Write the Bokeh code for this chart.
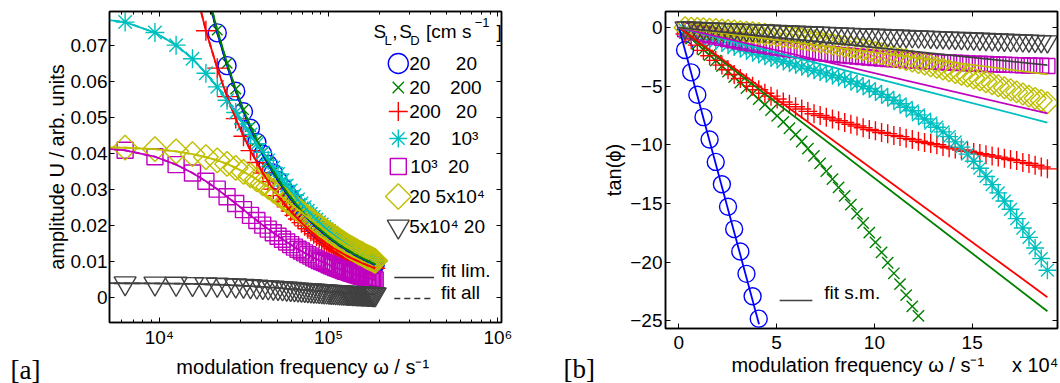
import math
from bokeh.plotting import figure
from bokeh.models import FixedTicker, LogAxis, LinearAxis, Range1d, LinearScale
from bokeh.layouts import row, column
from bokeh.embed import file_html
from bokeh.resources import INLINE
from bokeh.core.properties import value

# ---------------- data ----------------
omega = [3142, 6283, 9425, 12566, 15708, 18850, 21991, 25133, 28274, 31416,
         34558, 37699, 40841, 43982, 47124, 50265, 53407, 56549, 59690, 62832,
         65973, 69115, 72257, 75398, 78540, 81681, 84823, 87965, 91106, 94248,
         97389, 100531, 103673, 106814, 109956, 113097, 116239, 119381, 122522, 125664,
         128805, 131947, 135088, 138230, 141372, 144513, 147655, 150796, 153938, 157080,
         160221, 163363, 166504, 169646, 172788, 175929, 179071, 182212, 185354, 188496]

# panel [a]: amplitude U
amp_blue = [.5106, .2556, .1706, .1281, .1026, .0856, .0735, .0644, .0573, .0516,
            .0470, .0431, .0398, .0370, .0346, .0325, .0306, .0289, .0274, .0261,
            .0249, .0238, .0228, .0219, .0210, .0202, .0195, .0188, .0182, .0176,
            .0171, .0165, .0161, .0156, .0152, .0148, .0144, .0140, .0137, .0134,
            .0130, .0127, .0125, .0122, .0119, .0117, .0115, .0112, .0110, .0108,
            .0106, .0104, .0102, .0100, .0099, .0097, .0095, .0094, .0092, .0091]
amp_green = [.5157, .2582, .1724, .1295, .1037, .0865, .0743, .0651, .0579, .0522,
             .0475, .0436, .0403, .0375, .0350, .0329, .0310, .0293, .0278, .0265,
             .0252, .0241, .0231, .0222, .0213, .0205, .0198, .0191, .0185, .0179,
             .0173, .0168, .0163, .0158, .0154, .0150, .0146, .0143, .0139, .0136,
             .0133, .0130, .0127, .0124, .0121, .0119, .0117, .0114, .0112, .0110,
             .0108, .0106, .0104, .0102, .0101, .0099, .0097, .0096, .0094, .0093]
amp_red = [.4408, .2208, .1475, .1108, .0888, .0741, .0637, .0558, .0497, .0448,
           .0408, .0375, .0346, .0322, .0301, .0283, .0267, .0252, .0240, .0228,
           .0218, .0208, .0199, .0191, .0184, .0177, .0171, .0165, .0160, .0155,
           .0150, .0146, .0141, .0137, .0134, .0130, .0127, .0124, .0121, .0118,
           .0115, .0113, .0110, .0108, .0106, .0104, .0102, .0100, .0098, .0096,
           .0094, .0093, .0091, .0089, .0088, .0087, .0085, .0084, .0083, .0081]
amp_cyan = [.0783, .0765, .0736, .0701, .0663, .0623, .0585, .0548, .0514, .0482,
            .0453, .0427, .0403, .0381, .0361, .0343, .0326, .0311, .0297, .0284,
            .0272, .0261, .0251, .0241, .0233, .0224, .0217, .0209, .0203, .0196,
            .0190, .0185, .0180, .0174, .0170, .0165, .0161, .0157, .0153, .0149,
            .0146, .0142, .0139, .0136, .0133, .0130, .0128, .0125, .0123, .0120,
            .0118, .0116, .0114, .0112, .0110, .0108, .0106, .0104, .0102, .0101]
amp_magenta = [.0421, .0409, .0391, .0369, .0346, .0323, .0301, .0280, .0261, .0244,
               .0228, .0214, .0201, .0190, .0180, .0170, .0162, .0154, .0147, .0140,
               .0134, .0129, .0124, .0119, .0115, .0110, .0107, .0103, .0100, .0097,
               .0094, .0091, .0088, .0086, .0083, .0081, .0079, .0077, .0075, .0073,
               .0072, .0070, .0068, .0067, .0065, .0064, .0063, .0061, .0060, .0059,
               .0058, .0057, .0056, .0055, .0054, .0053, .0052, .0051, .0050, .0049]
amp_yellow = [.0419, .0416, .0412, .0406, .0398, .0390, .0381, .0371, .0360, .0349,
              .0339, .0328, .0317, .0307, .0297, .0287, .0278, .0269, .0260, .0252,
              .0244, .0237, .0229, .0223, .0216, .0210, .0204, .0198, .0193, .0188,
              .0183, .0178, .0174, .0170, .0165, .0162, .0158, .0154, .0151, .0147,
              .0144, .0141, .0138, .0136, .0133, .0130, .0128, .0125, .0123, .0121,
              .0119, .0116, .0114, .0112, .0111, .0109, .0107, .0105, .0103, .0102]
amp_grey = [.00399, .00396, .00391, .00385, .00377, .00368, .00358, .00348, .00337, .00327,
            .00316, .00305, .00294, .00284, .00274, .00265, .00256, .00247, .00239, .00231,
            .00223, .00216, .00210, .00203, .00197, .00191, .00186, .00180, .00175, .00171,
            .00166, .00162, .00158, .00154, .00150, .00146, .00143, .00140, .00136, .00133,
            .00130, .00128, .00125, .00122, .00120, .00118, .00115, .00113, .00111, .00109,
            .00107, .00105, .00103, .00101, .00100, .00098, .00096, .00095, .00093, .00092]

# panel [b]: tan(phi)
tan_blue = [-1.91, -3.82, -5.73, -7.64, -9.55, -11.46, -13.37, -15.28, -17.19, -19.1,
            -21.01, -22.92, -24.83]
tan_green = [-0.47, -0.94, -1.41, -1.88, -2.35, -2.82, -3.29, -3.76, -4.23, -4.70,
             -5.17, -5.64, -6.11, -6.58, -7.05, -7.54, -8.05, -8.59, -9.14, -9.72,
             -10.32, -10.94, -11.58, -12.24, -12.93, -13.63, -14.36, -15.11, -15.88, -16.67,
             -17.49, -18.32, -19.18, -20.06, -20.96, -21.88, -22.82, -23.78, -24.6]
tan_red = [-0.55, -1.05, -1.5, -1.95, -2.4, -2.8, -3.2, -3.6, -4.0, -4.35,
           -4.7, -5.0, -5.3, -5.6, -5.85, -6.1, -6.35, -6.55, -6.75, -6.95,
           -7.15, -7.35, -7.5, -7.65, -7.8, -7.95, -8.1, -8.25, -8.4, -8.55,
           -8.7, -8.8, -8.95, -9.05, -9.2, -9.3, -9.45, -9.55, -9.7, -9.8,
           -9.9, -10.0, -10.15, -10.25, -10.35, -10.45, -10.55, -10.65, -10.75, -10.85,
           -10.95, -11.05, -11.15, -11.25, -11.35, -11.5, -11.6, -11.75, -11.9, -12.05]
tan_cyan = [-0.2, -0.4, -0.6, -0.8, -1.0, -1.15, -1.3, -1.5, -1.65, -1.8,
            -2.0, -2.15, -2.3, -2.45, -2.6, -2.75, -2.9, -3.05, -3.2, -3.35,
            -3.5, -3.65, -3.8, -3.95, -4.1, -4.25, -4.4, -4.6, -4.8, -5.0,
            -5.2, -5.45, -5.7, -5.95, -6.2, -6.5, -6.8, -7.1, -7.45, -7.8,
            -8.15, -8.5, -8.9, -9.3, -9.75, -10.2, -10.8, -11.4, -12.0, -12.7,
            -13.4, -14.1, -14.8, -15.5, -16.3, -17.1, -17.9, -18.8, -19.7, -20.7]
tan_magenta = [-0.141, -0.277, -0.407, -0.532, -0.653, -0.768, -0.879, -0.986, -1.088, -1.187,
               -1.282, -1.372, -1.460, -1.544, -1.624, -1.702, -1.776, -1.848, -1.916, -1.982,
               -2.046, -2.107, -2.165, -2.222, -2.276, -2.327, -2.377, -2.425, -2.471, -2.516,
               -2.558, -2.599, -2.638, -2.676, -2.712, -2.747, -2.781, -2.813, -2.844, -2.873,
               -2.902, -2.929, -2.955, -2.981, -3.005, -3.028, -3.051, -3.072, -3.093, -3.113,
               -3.132, -3.150, -3.168, -3.185, -3.201, -3.217, -3.232, -3.246, -3.260, -3.273]
tan_yellow = [-0.022, -0.046, -0.073, -0.103, -0.136, -0.172, -0.211, -0.253, -0.297, -0.345,
              -0.395, -0.449, -0.505, -0.564, -0.626, -0.691, -0.759, -0.830, -0.903, -0.980,
              -1.059, -1.142, -1.227, -1.315, -1.406, -1.500, -1.597, -1.697, -1.799, -1.905,
              -2.013, -2.125, -2.239, -2.356, -2.476, -2.599, -2.725, -2.854, -2.985, -3.120,
              -3.257, -3.398, -3.541, -3.687, -3.836, -3.988, -4.143, -4.301, -4.461, -4.625,
              -4.791, -4.961, -5.133, -5.308, -5.486, -5.667, -5.851, -6.038, -6.227, -6.420]
tan_grey = [-0.02, -0.04, -0.06, -0.08, -0.10, -0.12, -0.14, -0.16, -0.18, -0.20,
            -0.22, -0.24, -0.26, -0.28, -0.30, -0.32, -0.34, -0.36, -0.38, -0.40,
            -0.42, -0.44, -0.46, -0.48, -0.50, -0.52, -0.54, -0.56, -0.58, -0.60,
            -0.62, -0.64, -0.66, -0.68, -0.70, -0.72, -0.74, -0.76, -0.78, -0.80,
            -0.82, -0.84, -0.86, -0.88, -0.90, -0.92, -0.94, -0.96, -0.98, -1.00,
            -1.02, -1.04, -1.06, -1.08, -1.10, -1.12, -1.14, -1.16, -1.18, -1.20]

# straight "fit s.m." lines of panel [b]: (omega, tan) start and end
fit_sm_omega = [[0, 41000], [0, 188496], [0, 188496], [0, 188496], [0, 188496], [0, 188496], [0, 188496]]
fit_sm_tan = [[0, -25.3], [0, -24.2], [0, -23.0], [0, -8.1], [0, -7.33], [0, -4.0], [0, -3.2]]

# legend texts (S_L, S_D columns)
legend_col1 = ["20", "20", "200", "20", "10³", "20 5x10⁴", "5x10⁴ 20"]
legend_col2 = ["20", "200", "20", "10³", "20", "", ""]

# ticks
amp_ticks = [0, 0.01, 0.02, 0.03, 0.04, 0.05, 0.06, 0.07]
amp_tick_labels = ["0", "0.01", "0.02", "0.03", "0.04", "0.05", "0.06", "0.07"]
logw_ticks = [10000, 100000, 1000000]
logw_tick_labels = ["10⁴", "10⁵", "10⁶"]
logw_minor = [6000, 7000, 8000, 9000, 20000, 30000, 40000, 50000, 60000, 70000, 80000, 90000,
              200000, 300000, 400000, 500000, 600000, 700000, 800000, 900000]
linw_ticks = [0, 50000, 100000, 150000]
linw_tick_labels = ["0", "5", "10", "15"]
linw_multiplier = "x 10⁴"
tan_ticks = [-25, -20, -15, -10, -5, 0]
tan_tick_labels = ["−25", "−20", "−15", "−10", "−5", "0"]

x_title = "modulation frequency ω  / s⁻¹"

amps = [amp_blue, amp_green, amp_red, amp_cyan, amp_magenta, amp_yellow, amp_grey]
tans = [tan_blue, tan_green, tan_red, tan_cyan, tan_magenta, tan_yellow, tan_grey]

# ---------------- styles ----------------
FONT = "Liberation Sans"
SERIF = "Liberation Serif"
NBSP = "\u00a0"
COLORS = ["#0000ff", "#008000", "#ff0000", "#00bfbf", "#bf00bf", "#bfbf00", "#404040"]
MARKERS = ["circle", "x", "cross", "asterisk", "square", "square", "inverted_triangle"]
ANGLES = [0, 0, 0, 0, 0, math.pi / 4, 0]
SIZE_A = [18, 15, 20, 19, 16, 17.5, 22]
SIZE_B = [17, 16, 19, 18, 15, 15.5, 20]
SIZE_LEG = [20, 16, 19, 18, 16, 18, 22]


def style_axis(ax, ticks, labels, minor, show):
    ax.ticker = FixedTicker(ticks=ticks, minor_ticks=minor)
    ax.major_label_overrides = {t: l for t, l in zip(ticks, labels)}
    ax.major_tick_in = 5
    ax.major_tick_out = 0
    ax.minor_tick_in = 3
    ax.minor_tick_out = 0
    ax.major_tick_line_color = "black"
    ax.minor_tick_line_color = "black"
    ax.axis_line_color = "black"
    ax.axis_line_width = 1.5
    ax.major_label_text_font = FONT
    ax.axis_label_text_font = FONT
    ax.axis_label_text_font_size = "20px"
    ax.axis_label_text_font_style = "normal"
    ax.axis_label_text_color = "black"
    if show:
        ax.major_label_text_font_size = "19px"
        ax.major_label_text_color = "black"
    else:
        ax.major_label_text_font_size = "1px"
        ax.major_label_text_color = None
        ax.major_label_standoff = 0


def base_fig(width, x_range, y_range, xtype, bl, br, bt, bb, fw, fh):
    p = figure(width=width, height=383, x_axis_type=xtype, x_range=x_range, y_range=y_range,
               output_backend="svg", toolbar_location=None,
               min_border_left=bl, min_border_right=br, min_border_top=bt, min_border_bottom=bb)
    p.xgrid.visible = False
    p.ygrid.visible = False
    p.outline_line_color = "black"
    p.outline_line_width = 1.5
    p.background_fill_color = "white"
    p.border_fill_color = "white"
    p.extra_x_ranges = {"px": Range1d(0, fw)}
    p.extra_y_ranges = {"px": Range1d(0, fh)}
    p.extra_x_scales = {"px": LinearScale()}
    p.extra_y_scales = {"px": LinearScale()}
    return p


def tag_fig(width, tag, tx, ty):
    f = figure(width=width, height=383, x_range=Range1d(0, width), y_range=Range1d(0, 383),
               output_backend="svg", toolbar_location=None, x_axis_location=None, y_axis_location=None,
               min_border_left=0, min_border_right=0, min_border_top=0, min_border_bottom=0)
    f.xgrid.visible = False
    f.ygrid.visible = False
    f.outline_line_color = None
    f.background_fill_color = "white"
    f.border_fill_color = "white"
    f.text(x=[tx], y=[ty], text=[tag], text_font=value(SERIF), text_font_size="27px",
           text_baseline="middle", text_align="left", text_color="black")
    return f


# ---------------- panel [a] ----------------
p1 = base_fig(488, Range1d(5080, 1.05e6), Range1d(-0.00694, 0.07944), "log", 64, 29, 11, 61, 395, 311)
style_axis(p1.xaxis[0], logw_ticks, logw_tick_labels, logw_minor, True)
style_axis(p1.yaxis[0], amp_ticks, amp_tick_labels, [], True)
p1.xaxis[0].axis_label = x_title
p1.yaxis[0].axis_label = "amplitude U / arb. units"
p1.xaxis[0].major_label_standoff = 4
p1.xaxis[0].axis_label_standoff = 5
p1.yaxis[0].major_label_standoff = 2
p1.yaxis[0].axis_label_standoff = 0
top1 = LogAxis()
p1.add_layout(top1, "above")
style_axis(top1, logw_ticks, logw_tick_labels, logw_minor, False)
right1 = LinearAxis()
p1.add_layout(right1, "right")
style_axis(right1, amp_ticks, amp_tick_labels, [], False)

for i in range(7):
    p1.scatter(omega, amps[i], marker=MARKERS[i], size=SIZE_A[i], angle=ANGLES[i],
               fill_color=None, line_color=COLORS[i], line_width=1.4)
for i in range(7):
    p1.line(omega, amps[i], line_color=COLORS[i], line_width=1.8)
    p1.line(omega, amps[i], line_color=COLORS[i], line_width=1.8, line_dash="6 4")

# legend of panel [a] (frame pixel coordinates)
LEG_X = 291
LEG_Y = [259, 235, 211, 184, 156, 126, 96]
COL1_X = [302, 302, 302, 302, 303, 302, 302]
COL2_X = [349, 343, 349, 344, 341, 0, 0]
for i in range(7):
    p1.scatter([LEG_X], [LEG_Y[i]], marker=MARKERS[i], size=SIZE_LEG[i], angle=ANGLES[i],
               fill_color=None, line_color=COLORS[i], line_width=1.4,
               x_range_name="px", y_range_name="px")
p1.text(x=COL1_X, y=LEG_Y, text=legend_col1, x_range_name="px", y_range_name="px",
        text_font=value(FONT), text_font_size="19px", text_baseline="middle", text_color="black")
p1.text(x=COL2_X[:5], y=LEG_Y[:5], text=legend_col2[:5], x_range_name="px", y_range_name="px",
        text_font=value(FONT), text_font_size="19px", text_baseline="middle", text_color="black")

TITLE_PIECES = [("S", 266, 291, "19px"), ("L", 277, 282, "13px"), (",", 285, 291, "19px"),
                ("S", 292, 291, "19px"), ("D", 303, 282, "13px"), ("[cm s", 319, 291, "19px"),
                ("−1", 368, 300, "13px"), ("]", 390, 291, "19px")]
for t, x, y, fs in TITLE_PIECES:
    p1.text(x=[x], y=[y], text=[t], x_range_name="px", y_range_name="px",
            text_font=value(FONT), text_font_size=fs, text_baseline="middle", text_color="black")

p1.line([287, 327], [45, 45], x_range_name="px", y_range_name="px", line_color="#333333", line_width=1.3)
p1.line([287, 327], [24, 24], x_range_name="px", y_range_name="px", line_color="#333333", line_width=1.3,
        line_dash="6 4")
p1.text(x=[334, 334], y=[52, 30], text=["fit lim.", "fit all"], x_range_name="px", y_range_name="px",
        text_font=value(FONT), text_font_size="19px", text_baseline="middle", text_color="black")

# ---------------- panel [b] ----------------
p2 = base_fig(460, Range1d(-6850, 193660), Range1d(-25.67, 1.37), "linear", 62, 3, 11, 55, 395, 317)
style_axis(p2.xaxis[0], linw_ticks, linw_tick_labels, [], True)
style_axis(p2.yaxis[0], tan_ticks, tan_tick_labels, [], True)
# axis title with the "x 10^4" multiplier at its right end (non-breaking spaces keep the title centred)
p2.xaxis[0].axis_label = NBSP * 13 + x_title + NBSP * 5 + linw_multiplier
p2.yaxis[0].axis_label = "tan(ϕ)"
p2.xaxis[0].major_label_standoff = 7
p2.xaxis[0].axis_label_standoff = 2
p2.yaxis[0].major_label_standoff = 3
p2.yaxis[0].axis_label_standoff = 2
top2 = LinearAxis()
p2.add_layout(top2, "above")
style_axis(top2, linw_ticks, linw_tick_labels, [], False)
right2 = LinearAxis()
p2.add_layout(right2, "right")
style_axis(right2, tan_ticks, tan_tick_labels, [], False)

for i in range(7):
    n = len(tans[i])
    p2.scatter(omega[:n], tans[i], marker=MARKERS[i], size=SIZE_B[i], angle=ANGLES[i],
               fill_color=None, line_color=COLORS[i], line_width=1.4)
for i in range(7):
    p2.line(fit_sm_omega[i], fit_sm_tan[i], line_color=COLORS[i], line_width=1.8)

p2.line([115, 148], [28, 28], x_range_name="px", y_range_name="px", line_color="#404040", line_width=1.3)
p2.text(x=[160], y=[36], text=["fit s.m."], x_range_name="px", y_range_name="px",
        text_font=value(FONT), text_font_size="19px", text_baseline="middle", text_color="black")

# panel tags
fa = tag_fig(42, "[a]", 10, 14)
fb = tag_fig(70, "[b]", 33, 15)

layout = row(column(fa), column(p1), column(fb), column(p2))
open("out.html", "w").write(file_html(layout, INLINE))
